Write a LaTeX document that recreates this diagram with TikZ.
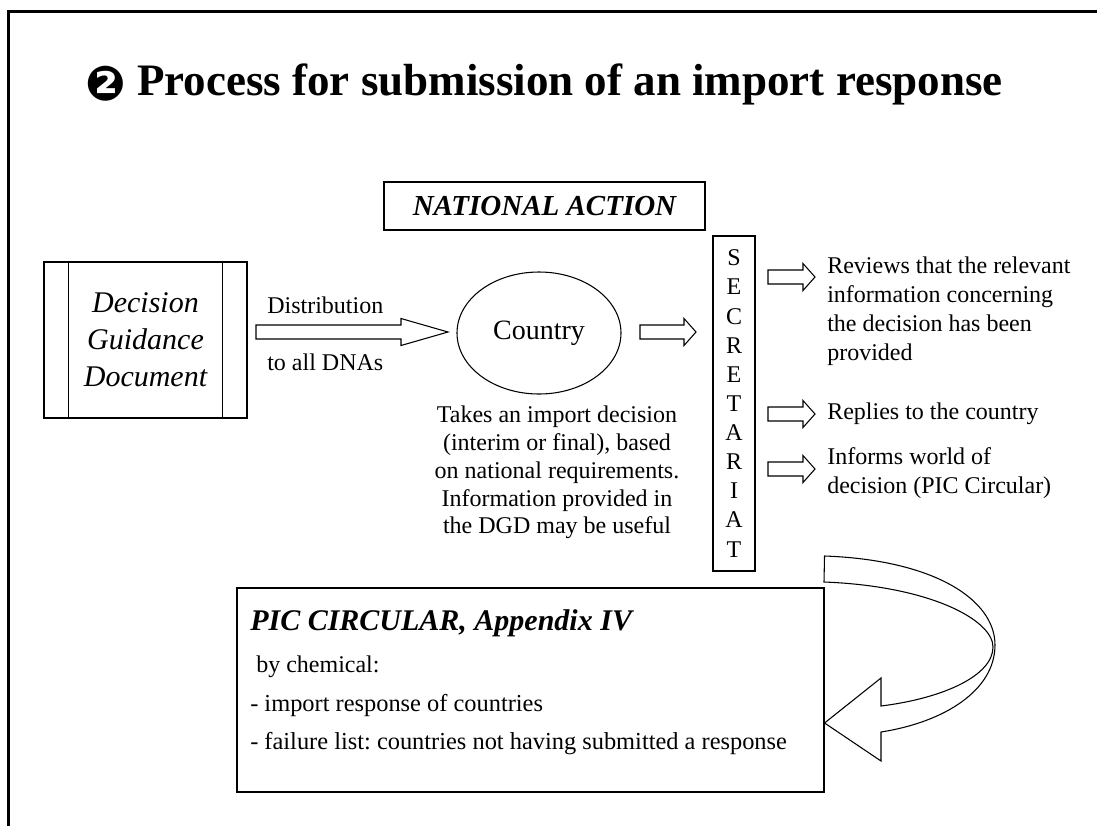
\documentclass[tikz,border=0pt]{standalone}
\usepackage{fontspec}
\setmainfont{Liberation Serif}
\newfontfamily\dingfont{DejaVu Sans}
\usetikzlibrary{positioning,shapes.geometric,calc}
\frenchspacing

% block arrow: tail, tip, head length
\newcommand{\fatarrow}[3]{%
  \draw[fat arrow] ($(#1)+(0,-7)$) -- ($(#2)+(-#3,-7)$) -- ++(0,-6.5) -- (#2)
    -- ($(#2)+(-#3,13.5)$) -- ++(0,-6.5) -- ($(#1)+(0,7)$) -- cycle;}

\begin{document}
\begin{tikzpicture}[x=0.75pt,y=-0.75pt,font=\fontsize{18}{21.75}\selectfont]
  \tikzstyle{box}=[draw,line width=0.8pt,inner sep=0pt]
  \tikzstyle{txt}=[inner sep=0pt]
  \tikzstyle{fat arrow}=[line width=0.8pt,fill=white,line join=miter]

  \useasboundingbox (0,0) rectangle (1097,826);
  \draw[line width=2.25pt] (8,826) -- (8,11) -- (1097,11);

  \node[txt,font=\fontsize{33.75}{40}\selectfont\bfseries] (title) at (544,84)
    {\raisebox{-0.12em}{\dingfont\fontsize{36}{36}\selectfont ❷}\ Process for submission of an import response};

  \node[box,minimum width=240.75pt,minimum height=36pt,
        font=\fontsize{21.75}{26}\selectfont\bfseries\itshape] (national) at (544.5,206) {NATIONAL ACTION};

  % document, country, secretariat
  \node[box,minimum width=152.25pt,minimum height=117pt,align=center,
        font=\fontsize{22.5}{27.75}\selectfont\itshape] (dgd) at (145.5,340) {Decision\\Guidance\\Document};
  \draw[line width=0.8pt] ($(dgd.north west)+(25,0)$) -- ($(dgd.south west)+(25,0)$)
                          ($(dgd.north east)+(-25,0)$) -- ($(dgd.south east)+(-25,0)$);

  \node[box,ellipse,minimum width=123pt,minimum height=91.5pt,
        font=\fontsize{21}{25}\selectfont] (country) at (539,333) {Country};

  \node[box,minimum width=31.5pt,minimum height=251.25pt,align=center,
        font=\fontsize{18}{21.85}\selectfont] (secretariat) at (734,403.5) {S\\E\\C\\R\\E\\T\\A\\R\\I\\A\\T};

  \node[txt,anchor=west] (dist) at (267,305) {Distribution};
  \node[txt,anchor=west] (dnas) at (267,362) {to all DNAs};

  \node[txt,align=center,font=\fontsize{18}{20.85}\selectfont] (takes) at (557,472.5)
    {Takes an import decision\\(interim or final), based\\on national requirements.\\Information provided in\\the DGD may be useful};

  \node[txt,anchor=west,align=left] (reviews) at (827,311.5)
    {Reviews that the relevant\\information concerning\\the decision has been\\provided};
  \node[txt,anchor=west] (replies) at (827,414) {Replies to the country};
  \node[txt,anchor=west,align=left] (informs) at (827,473.5) {Informs world of\\decision (PIC Circular)};

  % arrows
  \coordinate (dist-tail) at (256,332);
  \coordinate (dist-tip) at (448,332);
  \coordinate (ctry-tail) at (640,332);
  \coordinate (ctry-tip) at (696,332);
  \fatarrow{dist-tail}{dist-tip}{47}
  \fatarrow{ctry-tail}{ctry-tip}{12}
  \foreach \y/\n in {277/rev,414/rep,469/inf}{
    \coordinate (\n-tail) at (768,\y);
    \coordinate (\n-tip) at (815,\y);
    \fatarrow{\n-tail}{\n-tip}{12}
  }

  % PIC circular
  \node[box,minimum width=440.25pt,minimum height=153pt] (pic) at (530.5,690) {};
  \node[txt,anchor=west,font=\fontsize{22.5}{27}\selectfont\bfseries\itshape] (pichead) at (250,623) {PIC CIRCULAR, Appendix IV};
  \node[txt,anchor=west] (bychem) at (256,667) {by chemical:};
  \node[txt,anchor=west,font=\fontsize{18.3}{22}\selectfont] (imp) at (250,705) {- import response of countries};
  \node[txt,anchor=west,font=\fontsize{18.3}{22}\selectfont] (fail) at (250,744) {- failure list: countries not having submitted a response};

  % curved arrow back to the circular
  \draw[fat arrow] (pic.north east |- 0,556)
      .. controls (935,560) and (995,600) .. (995,645)
      .. controls (995,690) and (945,722) .. (881,732)
      -- (881,761) -- (pic.east |- 0,723) -- (881,678) -- (881,706)
      .. controls (945,698) and (993,675) .. (993,647)
      .. controls (993,620) and (930,586) .. (824,582) -- cycle;
\end{tikzpicture}
\end{document}
